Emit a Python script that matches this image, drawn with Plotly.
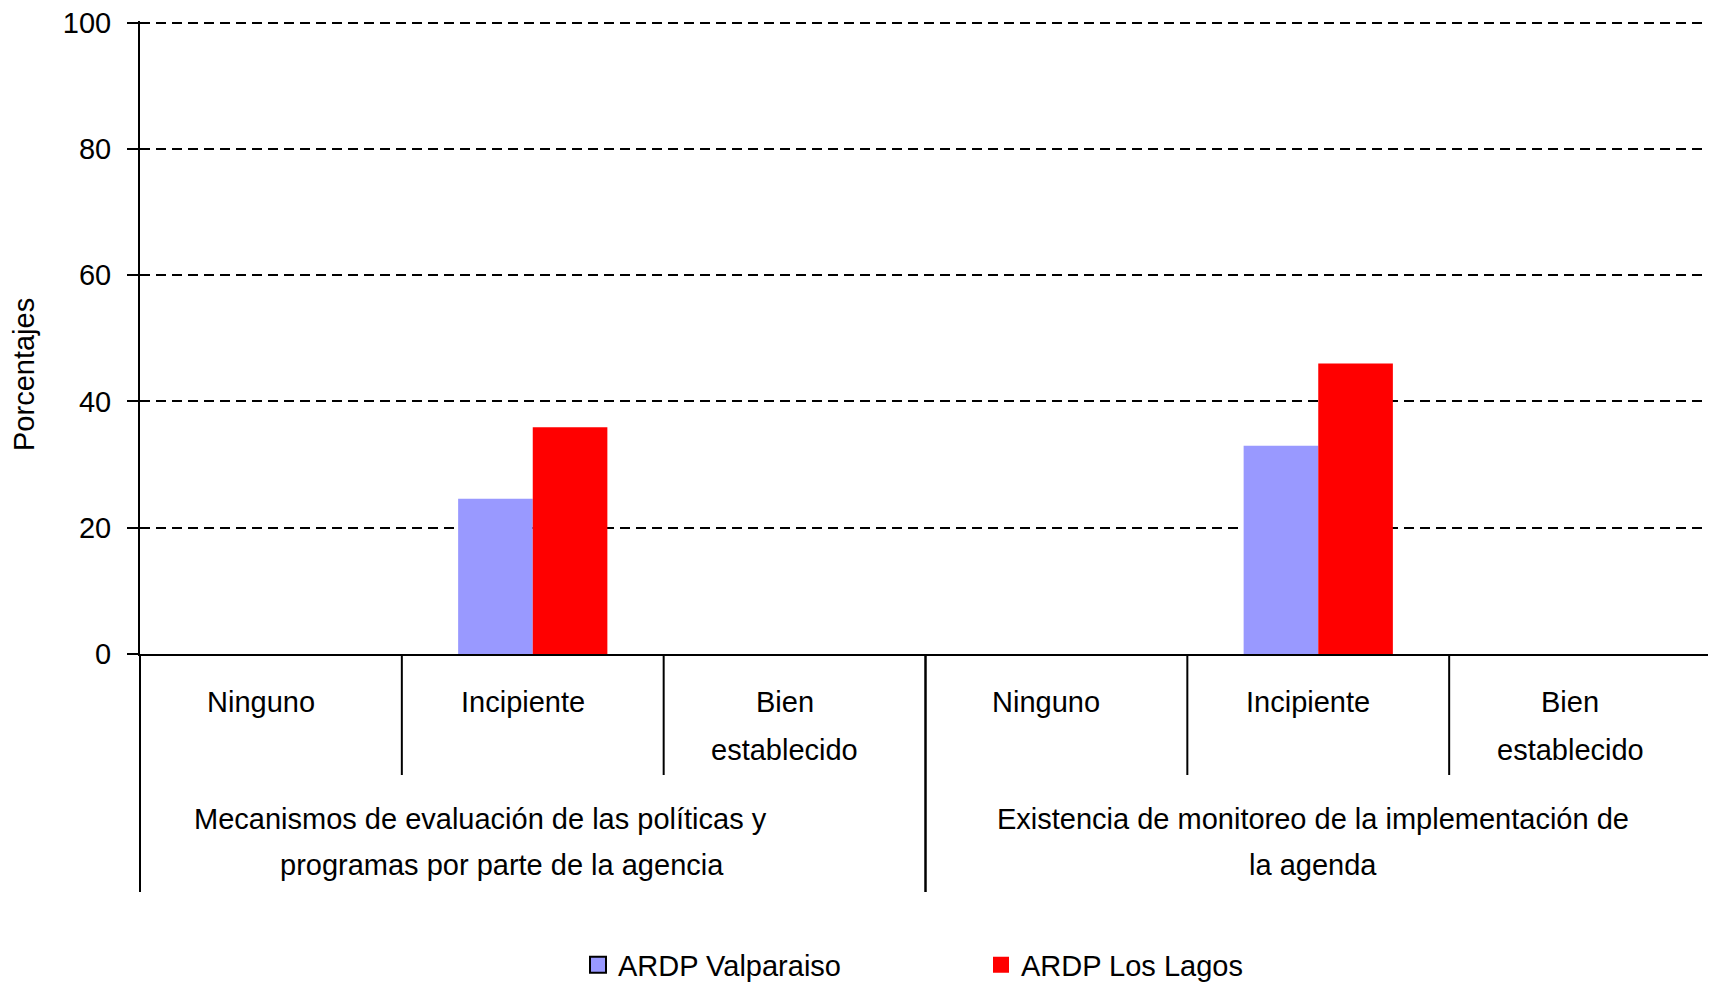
import plotly.graph_objects as go

# niveles (subcategorías) y dimensiones (grupos)
niveles = [["Ninguno"], ["Incipiente"], ["Bien", "establecido"]]
dimensiones = [
    ["Mecanismos de evaluación de las políticas y", "programas por parte de la agencia"],
    ["Existencia de monitoreo de la implementación de", "la agenda"],
]

valparaiso = [0, 24.6, 0, 0, 33.0, 0]
los_lagos = [0, 35.9, 0, 0, 46.0, 0]

y_ticks = [0, 20, 40, 60, 80, 100]

# page body has an 8px margin, so the figure is sized to end at the window edge
W, H = 1708, 974
ML, MR, MT, MB = 132, 5, 13, 328
PH = H - MT - MB
FONT = "Liberation Sans, Arial, sans-serif"
FS = 29

x = list(range(len(valparaiso)))
ncat = len(x)

fig = go.Figure()
fig.add_trace(go.Bar(x=x, y=valparaiso, name="ARDP Valparaiso", showlegend=False,
                     marker=dict(color="#9999FF", line=dict(width=0))))
fig.add_trace(go.Bar(x=x, y=los_lagos, name="ARDP Los Lagos", showlegend=False,
                     marker=dict(color="#FF0000", line=dict(width=0))))
# legend swatches (square, blue one outlined as in the original)
fig.add_trace(go.Scatter(x=[None], y=[None], mode="markers", name="ARDP Valparaiso",
                         marker=dict(symbol="square", size=16, color="#9999FF",
                                     line=dict(color="black", width=2))))
fig.add_trace(go.Scatter(x=[None], y=[None], mode="markers", name="ARDP Los Lagos",
                         marker=dict(symbol="square", size=16, color="#FF0000",
                                     line=dict(width=0))))


def divider(xb, depth):
    # vertical separator below the axis, xb in category units (paper ref so it isn't clipped)
    xp = (xb + 0.5) / ncat
    return dict(type="line", xref="paper", yref="paper", x0=xp, x1=xp,
                y0=0, y1=-depth / PH, line=dict(color="black", width=2))


annotations = []
shapes = []
n = len(niveles)
dim_shift = [[-52, -31], [-5, -5]]
for g, dim in enumerate(dimensiones):
    for k, lines in enumerate(niveles):
        xi = g * n + k
        for j, txt in enumerate(lines):
            annotations.append(dict(x=xi, xref="x", y=0, yref="paper", xshift=-10,
                                    yshift=-48 - 48 * j, text=txt, showarrow=False,
                                    xanchor="center", yanchor="middle",
                                    font=dict(size=FS, color="black")))
        if k < n - 1:
            shapes.append(divider(xi + 0.5, 121))
    xc = g * n + (n - 1) / 2
    for j, txt in enumerate(dim):
        annotations.append(dict(x=xc, xref="x", y=0, yref="paper", xshift=dim_shift[g][j],
                                yshift=-165 - 46 * j, text=txt, showarrow=False,
                                xanchor="center", yanchor="middle",
                                font=dict(size=FS, color="black")))
    for xb in (g * n - 0.5, g * n + n - 0.5):
        shapes.append(divider(xb, 238))

annotations.append(dict(x=0, xref="paper", xshift=-116, y=(654 - 375) / PH, yref="paper",
                        text="Porcentajes", textangle=-90, showarrow=False,
                        xanchor="center", yanchor="middle",
                        font=dict(size=FS, color="black")))

fig.update_layout(
    width=W, height=H,
    margin=dict(l=ML, r=MR, t=MT, b=MB, pad=0, autoexpand=False),
    paper_bgcolor="white", plot_bgcolor="white",
    font=dict(family=FONT, size=FS, color="black"),
    barmode="group", bargap=0.43, bargroupgap=0,
    showlegend=True,
    legend=dict(orientation="h", x=(578 - 140) / (W - ML - MR), xanchor="left",
                y=-(965 - 654) / PH, yanchor="middle", itemsizing="trace",
                font=dict(size=FS), entrywidth=358, entrywidthmode="pixels",
                itemclick=False, bgcolor="rgba(0,0,0,0)"),
    annotations=annotations,
    shapes=shapes,
)
fig.update_xaxes(range=[-0.5, ncat - 0.5], showgrid=False, zeroline=False,
                 showticklabels=False, ticks="", showline=True,
                 linecolor="black", linewidth=2)
fig.update_yaxes(range=[0, 100.25], tickvals=y_ticks, showgrid=True,
                 gridcolor="black", gridwidth=2, griddash="10px,6px",
                 zeroline=False, showline=True, linecolor="black", linewidth=2,
                 ticks="outside", ticklen=11, tickcolor="black", tickwidth=2,
                 tickfont=dict(size=FS), ticklabelstandoff=10,
                 ticklabeloverflow="allow")

fig.write_html("out.html")
